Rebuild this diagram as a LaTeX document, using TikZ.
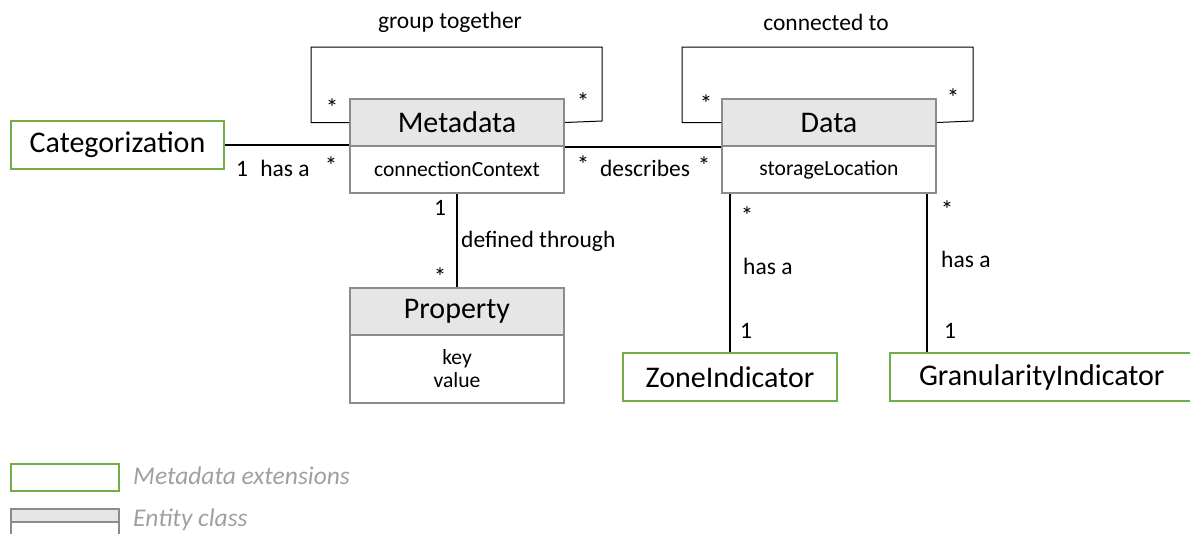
\documentclass[tikz,border=0pt]{standalone}
\usepackage{fontspec}
\setmainfont{Carlito}
\definecolor{extgreen}{HTML}{70AD47}
\definecolor{classgray}{HTML}{8C8C8C}
\definecolor{headfill}{HTML}{E6E6E6}
\definecolor{legendtext}{HTML}{A0A0A0}
\newcommand{\bigtxt}{\fontsize{30}{36}\selectfont}
\newcommand{\bodytxt}{\fontsize{21.6}{26}\selectfont}
\newcommand{\smalltxt}{\fontsize{23.5}{28}\selectfont}
\tikzset{
  classhead/.style={draw=classgray, line width=2pt, fill=headfill, minimum width=214pt,
    minimum height=47pt, anchor=north west, inner sep=0pt, font=\bigtxt},
  classbody/.style={draw=classgray, line width=2pt, fill=white, minimum width=214pt,
    anchor=north west, inner sep=0pt, font=\bodytxt, align=center},
  extbox/.style={draw=extgreen, line width=2pt, fill=white, minimum height=48pt,
    anchor=north west, inner sep=0pt, font=\bigtxt},
  assoc/.style={line width=2pt, black},
  selfloop/.style={line width=1pt, black},
  lbl/.style={font=\smalltxt, inner sep=0pt},
  mult/.style={font=\fontsize{25}{30}\selectfont, inner sep=0pt, yshift=-3pt},
  legendlbl/.style={font=\fontsize{25.5}{30}\selectfont\itshape, text=legendtext, inner sep=0pt, anchor=west},
}
\begin{document}
\begin{tikzpicture}[x=1pt, y=-1pt]
\useasboundingbox (0,0) rectangle (1190,533);

% entity classes
\node[classhead] (meta) at (349,98) {Metadata};
\node[classbody, minimum height=47pt] (metab) at (349,145) {connectionContext};
\node[classhead] (data) at (721,98) {Data};
\node[classbody, minimum height=47pt] (datab) at (721,145) {storageLocation};
\node[classhead] (prop) at (349,287) {Property};
\node[classbody, minimum height=68pt] (propb) at (349,334) {key\\[-3pt]value};

% metadata extensions
\node[extbox, minimum width=213pt] (cat) at (10,120) {\raisebox{-2pt}{Categorization}};
\node[extbox, minimum width=214pt] (zone) at (622,352) {ZoneIndicator};
\node[extbox, minimum width=303pt, text width=303pt, align=left] (gran) at (889,352) {\hspace{29pt}GranularityIndicator};

% self associations
\draw[selfloop] (meta.west) -| (311,47) -| (602,121) -- (meta.east);
\draw[selfloop] (data.west) -| (682,47) -| (973,121) -- (data.east);
\node[lbl] (gtl) at (450,22) {group together};
\node[mult] (gts1) at (332,105) {*};
\node[mult] (gts2) at (583,99) {*};
\node[lbl] (ctl) at (826,22) {connected to};
\node[mult] (cts1) at (706,101) {*};
\node[mult] (cts2) at (953,95) {*};

% associations
\draw[assoc] (cat.east) -- (cat.east -| meta.west);
\node[lbl] (c1) at (242,169) {1};
\node[lbl] (c2) at (285,168) {has a};
\node[mult] (c3) at (331,163) {*};

\draw[assoc] (meta.south east) -- (data.south west);
\node[mult] (d1) at (583,162) {*};
\node[lbl] (d2) at (645,168) {describes};
\node[mult] (d3) at (704,163) {*};

\draw[assoc] (metab.south) -- (prop.north);
\node[lbl] (p1) at (440,208) {1};
\node[lbl, anchor=west] (p2) at (461,241) {defined through};
\node[mult] (p3) at (440,274) {*};

\draw[assoc] (datab.south -| 730,0) -- (zone.north -| 730,0);
\node[mult] (z1) at (747,213) {*};
\node[lbl, anchor=west] (z2) at (743,266) {has a};
\node[lbl] (z3) at (746,331) {1};

\draw[assoc] (datab.south -| 927,0) -- (gran.north -| 927,0);
\node[mult] (g1) at (947,207) {*};
\node[lbl, anchor=west] (g2) at (941,259) {has a};
\node[lbl] (g3) at (950,331) {1};

% legend
\node[draw=extgreen, line width=2pt, minimum width=108pt, minimum height=27pt, anchor=north west, inner sep=0pt] (legext) at (10,463) {};
\node[legendlbl] (legextl) at (133,476) {Metadata extensions};
\node[draw=classgray, line width=2pt, fill=headfill, minimum width=108pt, minimum height=13pt, anchor=north west, inner sep=0pt] (legcls) at (10,508) {};
\node[draw=classgray, line width=2pt, fill=white, minimum width=108pt, minimum height=20pt, anchor=north west, inner sep=0pt] (legclsb) at (10,521) {};
\node[legendlbl] (legclsl) at (133,520) {Entity class};
\end{tikzpicture}
\end{document}
